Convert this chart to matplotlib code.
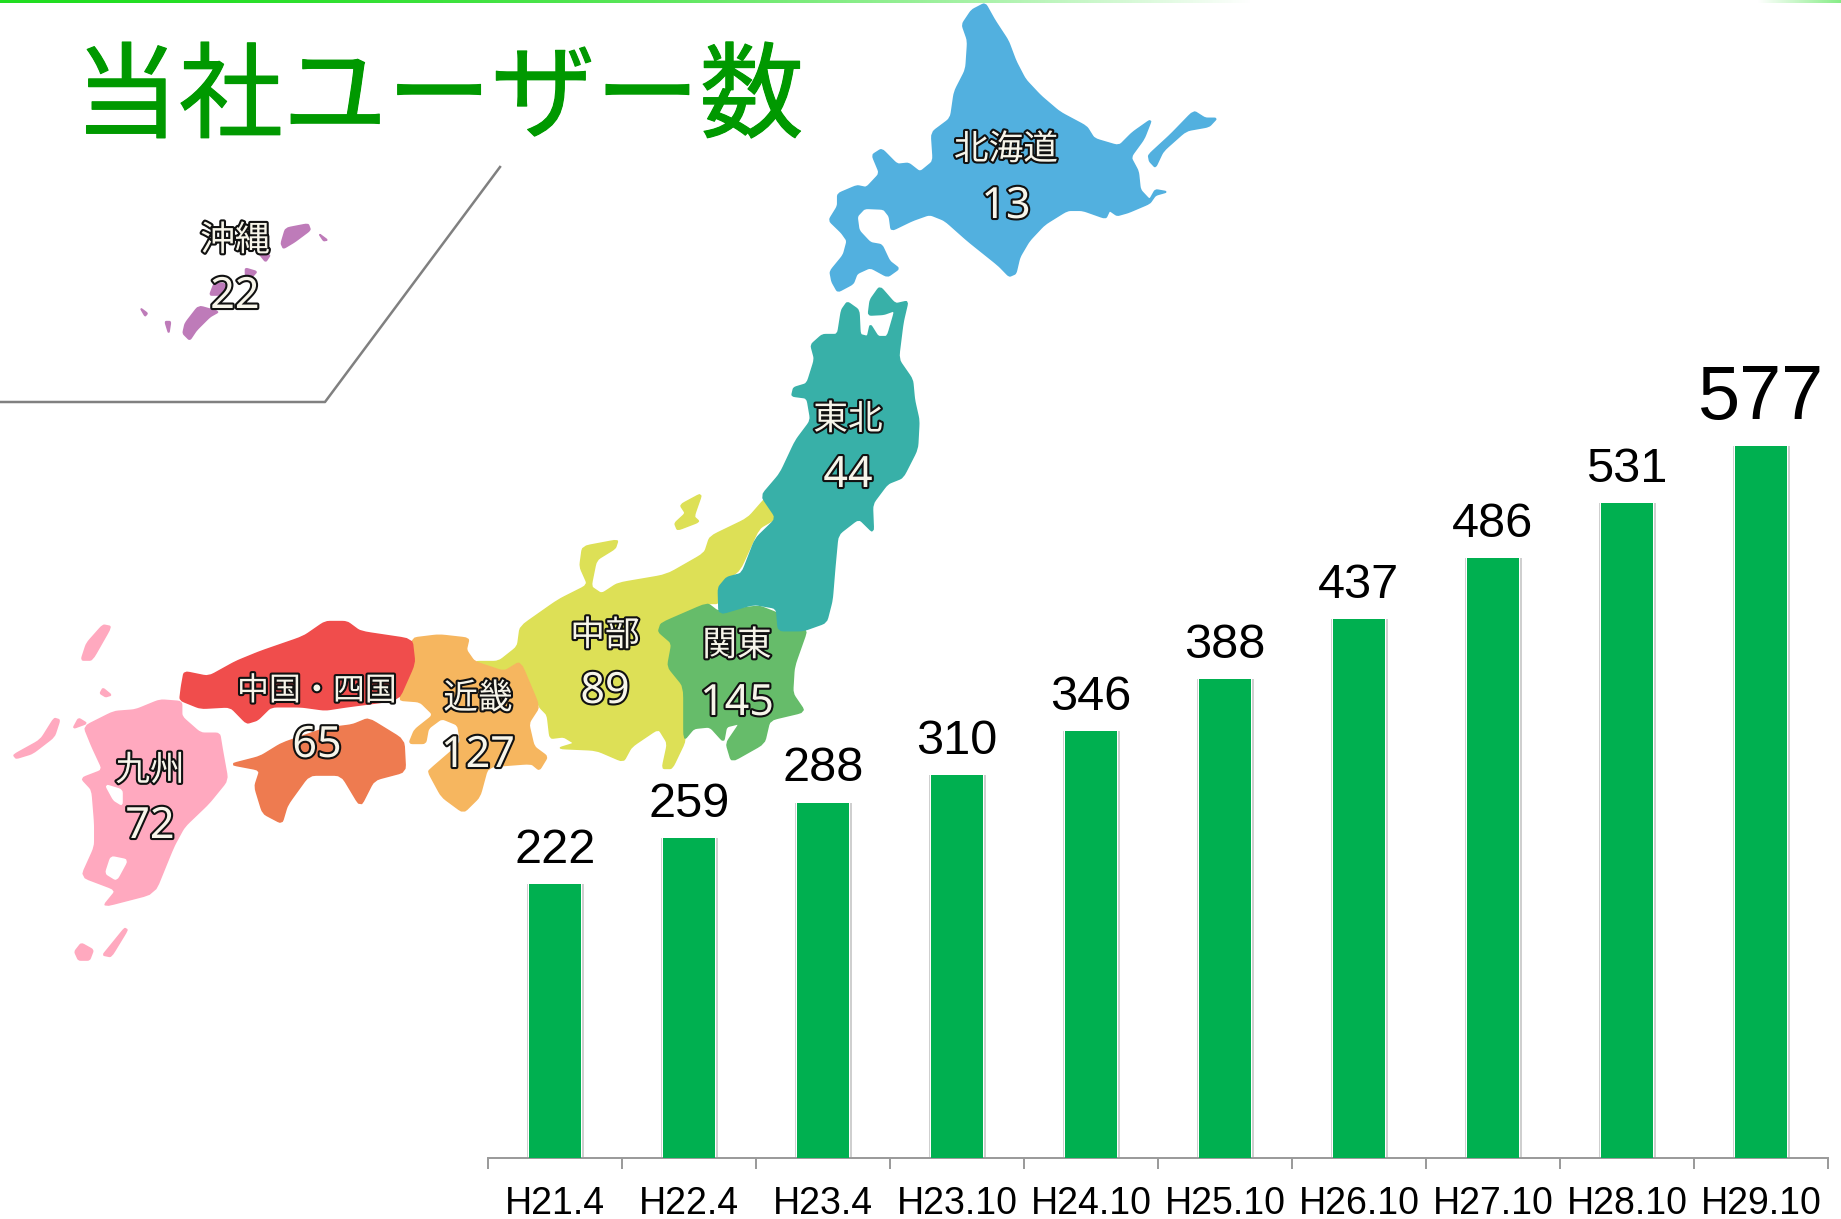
import numpy as np
import matplotlib
matplotlib.use("Agg")
import matplotlib.pyplot as plt
import matplotlib.patheffects as pe
from matplotlib.patches import Polygon

# datos del grafico de barras
periods = ["H21.4", "H22.4", "H23.4", "H23.10", "H24.10", "H25.10", "H26.10", "H27.10", "H28.10", "H29.10"]
users = [222, 259, 288, 310, 346, 388, 437, 486, 531, 577]

# usuarios por region
region_names = ["北海道", "東北", "関東", "中部", "近畿", "中国・四国", "九州", "沖縄"]
region_users = [13, 44, 145, 89, 127, 65, 72, 22]
# centro de cada rotulo en pixeles (x, y nombre, y numero)
region_label_x = [1006, 848, 737, 605, 478, 317, 150, 235]
region_label_y = [150, 420, 646, 636, 699, 691, 771, 241]
region_value_y = [207, 476, 704, 692, 756, 746, 827, 297]

W, H = 1841, 1219
CJK = ["Noto Sans CJK JP", "DejaVu Sans"]
plt.rcParams["font.family"] = ["Liberation Sans", "Noto Sans CJK JP"]

fig = plt.figure(figsize=(W / 100, H / 100), dpi=100, facecolor="white")

# capa de fondo en pixeles: mapa y decoracion
bg = fig.add_axes([0, 0, 1, 1])
bg.axis("off")

# linea verde superior, se desvanece hacia la derecha y vuelve en la esquina
fade = np.clip(np.arange(W) / 1250, 0, 1) ** 2
corner = np.clip((np.arange(W) - 1758) / 83, 0, 1) * 0.55
fade = np.minimum(fade, 1 - corner)
grad = np.ones((1, W, 3))
grad[0, :, 0] = 0.13 + 0.87 * fade
grad[0, :, 1] = 0.87 + 0.13 * fade
grad[0, :, 2] = 0.13 + 0.87 * fade
bg.imshow(grad, extent=[0, W, 3, 0], aspect="auto", zorder=1)
bg.set_xlim(0, W)
bg.set_ylim(H, 0)


# los contornos se leyeron de los recortes, cada uno con su escala
def z1(pts):
    return [(x / 2.24, y / 3) for x, y in pts]


def z2(pts):
    return [(700 + x / 2.613, y / 2.45) for x, y in pts]


def z3(pts):
    return [(x / 1.845, 480 + y / 3) for x, y in pts]


# redondear las esquinas del contorno
def soften(pts, rounds=2):
    p = np.array(pts, dtype=float)
    for _ in range(rounds):
        q = np.roll(p, -1, axis=0)
        p = np.column_stack([0.88 * p + 0.12 * q, 0.12 * p + 0.88 * q]).reshape(-1, 2)
    return p


def land(pts, color, z=2):
    bg.add_patch(Polygon(soften(pts), closed=True, facecolor=color, edgecolor=color,
                         linewidth=1.2, joinstyle="round", zorder=z))


blue = "#52B0DF"
teal = "#38B0A8"
yellow = "#DDE056"
green = "#66BC6A"
orange = "#F6B65F"
red = "#F04D4C"
coral = "#EE7B50"
pink = "#FFA9BF"
purple = "#BE7BB9"

land(z2([(745, 8), (770, 50), (805, 100), (825, 150), (850, 195), (890, 235), (940, 275), (1010, 310),
         (1030, 340), (1095, 358), (1130, 325), (1180, 292), (1160, 340), (1125, 385), (1145, 420), (1150, 465),
         (1175, 490), (1190, 465), (1220, 470), (1190, 478), (1175, 498), (1120, 520), (1090, 528), (1070, 515),
         (1060, 535), (1000, 515), (960, 515), (900, 550), (860, 590), (835, 630), (825, 670), (808, 677),
         (780, 650), (700, 590), (640, 540), (600, 525), (555, 540), (500, 565), (495, 530), (480, 512),
         (430, 510), (410, 530), (415, 565), (445, 595), (475, 600), (495, 640), (520, 658), (490, 678),
         (445, 655), (410, 670), (400, 695), (360, 715), (345, 690), (340, 665), (375, 625), (385, 590),
         (370, 570), (337, 540), (360, 505), (360, 475), (410, 455), (435, 460), (470, 425), (450, 380),
         (475, 365), (515, 403), (545, 400), (575, 422), (610, 395), (605, 325), (655, 290), (665, 225),
         (695, 170), (700, 100), (685, 60), (710, 25)]), blue)
land(z2([(1172, 380), (1230, 330), (1290, 272), (1320, 290), (1350, 290), (1330, 310), (1270, 320),
         (1210, 370), (1190, 410), (1175, 395)]), blue)

land(z3([(1380, 115), (1415, 50), (1432, 115), (1400, 145), (1365, 270), (1330, 310), (1325, 370), (1305, 370),
         (1220, 430), (1215, 455), (1240, 490), (1232, 560), (1262, 620), (1265, 780), (1240, 865), (1222, 865),
         (1232, 790), (1215, 745), (1165, 800), (1150, 845), (1100, 810), (1030, 805), (1060, 790), (1040, 770),
         (1015, 775), (1010, 705), (995, 680), (960, 545), (930, 575), (875, 545), (920, 545), (955, 500),
         (960, 440), (1030, 360), (1085, 315), (1070, 260), (1075, 200), (1140, 180), (1135, 205), (1100, 240),
         (1090, 320), (1110, 342), (1140, 310), (1230, 285), (1300, 220), (1310, 170)]), yellow)
land(z3([(1295, 40), (1280, 110), (1290, 125), (1250, 150), (1245, 130), (1265, 100), (1255, 75)]), yellow)

land(z3([(1305, 370), (1325, 395), (1400, 378), (1435, 400), (1440, 450), (1490, 445), (1465, 560), (1462, 640),
         (1485, 695), (1420, 720), (1410, 790), (1350, 845), (1340, 790), (1365, 730), (1340, 740), (1335, 785),
         (1310, 740), (1280, 745), (1262, 780), (1262, 620), (1232, 560), (1240, 490), (1215, 455),
         (1220, 430)]), green)

land(z2([(470, 702), (510, 745), (543, 738), (530, 790), (518, 880), (555, 930), (560, 980), (572, 1030),
         (568, 1100), (530, 1170), (490, 1185), (450, 1235), (453, 1305), (415, 1270), (360, 1310), (352, 1390),
         (345, 1470), (330, 1525), (270, 1545), (205, 1545), (200, 1490), (140, 1480), (50, 1505), (48, 1440),
         (70, 1415), (110, 1405), (145, 1320), (200, 1270), (160, 1215), (210, 1160), (250, 1080), (290, 1030),
         (280, 975), (240, 970), (245, 950), (280, 940), (300, 880), (290, 845), (320, 820), (360, 820),
         (370, 760), (385, 740), (415, 760), (418, 820), (438, 825), (445, 795), (465, 825), (490, 825),
         (510, 760), (480, 770), (440, 772), (445, 735)]), teal, z=3)

land(z3([(760, 475), (810, 465), (865, 475), (860, 510), (875, 545), (930, 575), (960, 545), (995, 680), (975, 730),
         (985, 800), (1010, 830), (995, 870), (980, 850), (900, 860), (885, 950), (855, 998), (815, 950), (790, 875),
         (800, 860), (850, 790), (845, 735), (815, 715), (790, 745), (785, 790), (755, 790), (765, 750), (800, 705),
         (775, 665), (735, 660), (765, 550)]), orange)
land(z3([(340, 575), (385, 590), (435, 545), (480, 515), (560, 470), (600, 425), (640, 425), (665, 455), (760, 478),
         (765, 550), (735, 660), (640, 680), (600, 690), (555, 680), (500, 680), (475, 720), (455, 730), (425, 680),
         (370, 685), (332, 660), (335, 620)]), red)
land(z3([(680, 715), (745, 780), (748, 875), (690, 900), (665, 980), (630, 885), (570, 885), (530, 975), (520, 1030),
         (485, 1000), (470, 920), (480, 870), (425, 853), (480, 830), (520, 790), (600, 745), (650, 735)]), coral)
land(z3([(295, 660), (335, 665), (335, 710), (370, 760), (405, 760), (410, 810), (420, 900), (385, 970), (340, 1040),
         (320, 1100), (285, 1240), (190, 1280), (215, 1230), (150, 1190), (175, 1100), (175, 1030), (170, 930),
         (150, 895), (190, 870), (170, 800), (155, 740), (210, 695), (250, 690)]), pink)
land(z3([(195, 915), (225, 930), (225, 975), (210, 960)]), "white", z=3)
land(z3([(205, 1130), (235, 1140), (215, 1200), (195, 1180)]), "white", z=3)
for isle in [[(190, 435), (205, 440), (170, 540), (150, 540), (160, 490)],
             [(190, 625), (205, 645), (195, 650), (185, 640)],
             [(100, 715), (110, 720), (100, 770), (60, 820), (30, 835), (25, 825), (75, 780)],
             [(145, 715), (160, 730), (135, 745)],
             [(230, 1345), (235, 1350), (205, 1430), (190, 1425), (205, 1395)],
             [(150, 1390), (172, 1410), (165, 1440), (145, 1440), (138, 1415)]]:
    land(z3(isle), pink)
for isle in [[(640, 685), (690, 672), (695, 690), (660, 725), (635, 745), (630, 730)],
             [(715, 702), (733, 720), (725, 722)],
             [(580, 760), (605, 765), (595, 785)],
             [(550, 805), (575, 815), (565, 830), (550, 825)],
             [(480, 850), (500, 850), (520, 870), (490, 885), (470, 885)],
             [(445, 918), (490, 935), (470, 950), (440, 990), (425, 1020), (410, 1000), (415, 970)],
             [(315, 925), (330, 940), (325, 948)],
             [(370, 965), (382, 965), (378, 1000)]]:
    land(z1(isle), purple)

# recuadro de Okinawa
bg.plot([500, 325, 0], [167, 402, 402], color="#808080", lw=1.8, zorder=4)

# titulo
bg.text(439, 100, "当社ユーザー数", color="#009900", fontsize=75, ha="center", va="center",
        family=CJK, path_effects=[pe.withStroke(linewidth=0.8, foreground="#009900")], zorder=5)

# rotulos de las regiones
outline = [pe.withStroke(linewidth=3.0, foreground="#111111")]
for name, val, x, y1, y2 in zip(region_names, region_users, region_label_x, region_label_y, region_value_y):
    size = 23 if len(name) > 3 else 25
    bg.text(x, y1, name, color="#F7F5EA", fontsize=size, ha="center", va="center",
            family=CJK, path_effects=outline, zorder=6)
    bg.text(x, y2, str(val), color="#F7F5EA", fontsize=31, ha="center", va="center",
            family=["Noto Sans", "DejaVu Sans"], path_effects=outline, zorder=6)

# grafico de barras, con sombra gris mas marcada a la derecha
ax = fig.add_axes([488 / W, (H - 1158) / H, 1340 / W, 1158 / H])
ax.patch.set_alpha(0)
xpos = np.arange(len(users))
ax.bar(xpos + 0.006, users, width=0.425, color="#CFCFCF", zorder=2)
ax.bar(xpos, users, width=0.405, color="white", zorder=2)
bars = ax.bar(xpos, users, width=0.39, color="#00B050", zorder=3)
labels = ax.bar_label(bars, labels=[str(u) for u in users], padding=8, fontsize=35, color="black")
labels[-1].set_fontsize(54.5)
ax.set_xlim(-0.5, len(users) - 0.5)
ax.set_ylim(0, 1158 / 1.234)
for side in ["top", "left", "right"]:
    ax.spines[side].set_visible(False)
ax.spines["bottom"].set_color("#999999")
ax.spines["bottom"].set_linewidth(1.4)
ax.set_yticks([])
ax.set_xticks(xpos)
ax.set_xticklabels(periods, fontsize=27)
ax.set_xticks(np.arange(len(users) + 1) - 0.5, minor=True)
ax.tick_params(axis="x", which="major", length=0, pad=20)
ax.tick_params(axis="x", which="minor", length=8, width=1.4, color="#999999")

fig.savefig("out.png", dpi=100)
